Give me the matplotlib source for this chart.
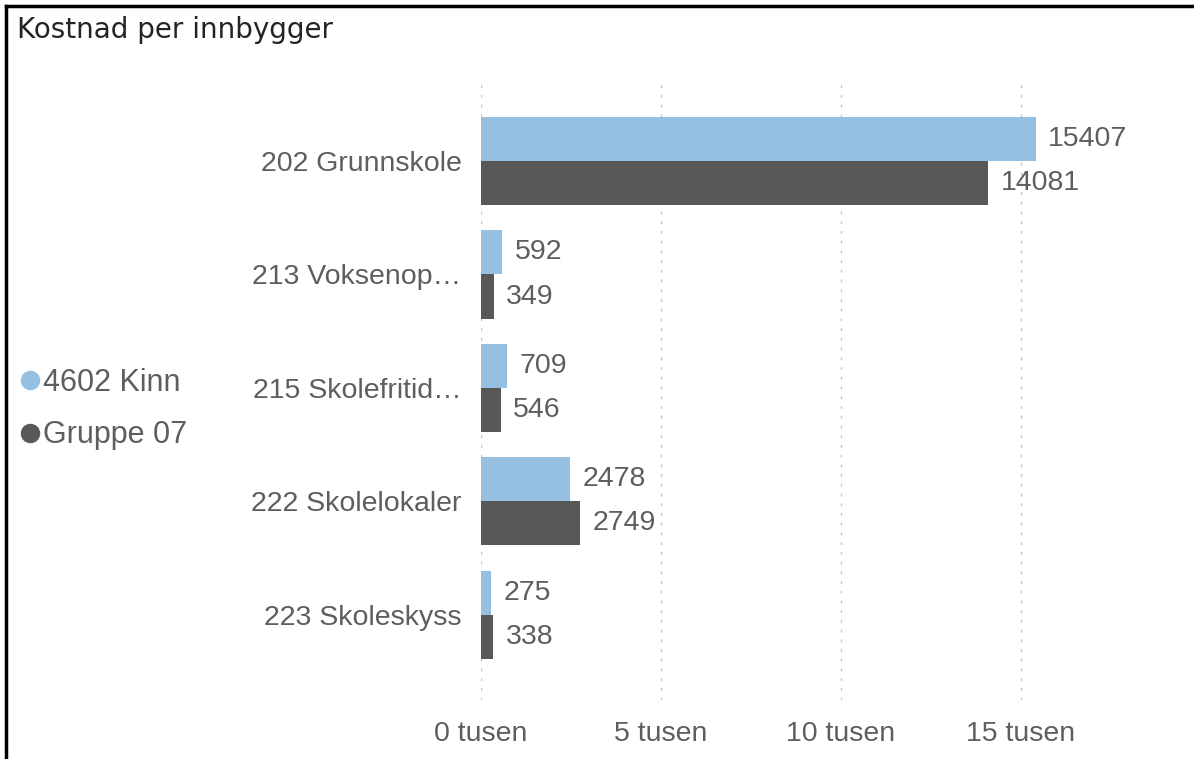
import matplotlib.pyplot as plt
from matplotlib.lines import Line2D
import numpy as np

# chart data
categories = ['202 Grunnskole', '213 Voksenop…', '215 Skolefritid…',
              '222 Skolelokaler', '223 Skoleskyss']
kinn = [15407, 592, 709, 2478, 275]
gruppe = [14081, 349, 546, 2749, 338]
series_names = ['4602 Kinn', 'Gruppe 07']
tick_vals = [0, 5000, 10000, 15000]
tick_labels = ['0 tusen', '5 tusen', '10 tusen', '15 tusen']

col_kinn = '#95C0E2'
col_grp = '#585857'
txt_col = '#605E5C'

plt.rcParams['font.family'] = ['Liberation Sans', 'DejaVu Sans']

W, H = 1194, 759
fig = plt.figure(figsize=(W / 100, H / 100), dpi=100)

# axes placed in pixel terms
left, right, top, bottom = 481, 1147, 80, 700
ax = fig.add_axes([left / W, 1 - bottom / H, (right - left) / W, (bottom - top) / H])

y = np.arange(len(categories))
bh = 0.388
ax.barh(y - bh / 2, kinn, height=bh, color=col_kinn, zorder=2)
ax.barh(y + bh / 2, gruppe, height=bh, color=col_grp, zorder=2)

ax.set_xlim(0, 18500)
ax.set_ylim(4.75, -0.714)

fs = 20.5
for i in range(len(categories)):
    ax.annotate(str(kinn[i]), (kinn[i], y[i] - bh / 2), xytext=(9, 0),
                textcoords='offset points', va='center', ha='left',
                fontsize=fs, color=txt_col)
    ax.annotate(str(gruppe[i]), (gruppe[i], y[i] + bh / 2), xytext=(9, 0),
                textcoords='offset points', va='center', ha='left',
                fontsize=fs, color=txt_col)

ax.set_yticks(y)
ax.set_yticklabels(categories, fontsize=fs, color=txt_col)
ax.set_xticks(tick_vals)
ax.set_xticklabels(tick_labels, fontsize=fs, color=txt_col)
ax.tick_params(axis='both', length=0)
ax.tick_params(axis='y', pad=14)
ax.tick_params(axis='x', pad=15)

for v in tick_vals:
    ax.axvline(v, color='#C8C6C4', linestyle=(0, (2, 5)), linewidth=1, zorder=1)

for s in ax.spines.values():
    s.set_visible(False)

# title
fig.text(17 / W, 1 - 30 / H, 'Kostnad per innbygger', fontsize=20,
         family=['DejaVu Sans'], color='#252423', va='center', ha='left')

# legend
handles = [Line2D([], [], marker='o', linestyle='none', color=col_kinn, markersize=13),
           Line2D([], [], marker='o', linestyle='none', color=col_grp, markersize=13)]
leg = fig.legend(handles, series_names, loc='center left',
                 bbox_to_anchor=(18 / W, 1 - 409 / H), frameon=False,
                 fontsize=22, handletextpad=0.03, labelspacing=0.75,
                 handlelength=0.8, borderpad=0, borderaxespad=0)
for t in leg.get_texts():
    t.set_color(txt_col)

# border lines top and left
fig.add_artist(Line2D([6 / W, 1], [1 - 6 / H, 1 - 6 / H], color='black', linewidth=2.5,
                      transform=fig.transFigure))
fig.add_artist(Line2D([6 / W, 6 / W], [0, 1 - 6 / H], color='black', linewidth=2.5,
                      transform=fig.transFigure))

fig.savefig('out.png', dpi=100)
